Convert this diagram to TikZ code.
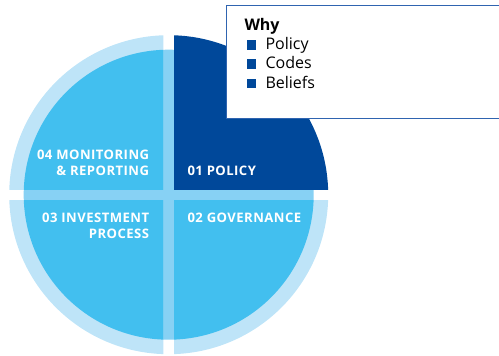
\documentclass[tikz,border=0pt]{standalone}
\usepackage{fontspec}
\setmainfont{Open Sans}
\newfontfamily\qfont[LetterSpace=3.5]{Open Sans}
\definecolor{darkq}{HTML}{00489A}
\definecolor{midq}{HTML}{42BFEF}
\definecolor{ringq}{HTML}{BEE4F8}
\definecolor{bandq}{HTML}{87D1F4}
\definecolor{legborder}{HTML}{2F64B0}
\begin{document}
\begin{tikzpicture}[x=1pt,y=1pt,
  qlabel/.style={text=white,font=\qfont\fontsize{13.1}{15}\selectfont\bfseries,inner sep=0pt},
  legtext/.style={text=black,font=\fontsize{16}{19}\selectfont,inner sep=0pt,anchor=base west},
  bullet/.style={fill=darkq}]
\useasboundingbox (0,0) rectangle (499,356);
\clip (0,0) rectangle (499,356);
\coordinate (C) at (168.7,161.3);
\def\g{5.35}
\def\Ri{145}
\def\Ro{159.5}
% band disc
\fill[bandq] (C) circle (\Ri);
% top-left quadrant
\begin{scope}
  \clip ([shift={(-200,\g)}]C) rectangle ([shift={(-\g,200)}]C);
  \fill[ringq] (C) circle (\Ro);
  \fill[midq] (C) circle (\Ri);
\end{scope}
% bottom-left quadrant
\begin{scope}
  \clip ([shift={(-200,-200)}]C) rectangle ([shift={(-\g,-\g)}]C);
  \fill[ringq] (C) circle (\Ro);
  \fill[midq] (C) circle (\Ri);
\end{scope}
% bottom-right quadrant
\begin{scope}
  \clip ([shift={(\g,-200)}]C) rectangle ([shift={(200,-\g)}]C);
  \fill[ringq] (C) circle (\Ro);
  \fill[midq] (C) circle (\Ri);
\end{scope}
% top-right quadrant (policy)
\begin{scope}
  \clip ([shift={(\g,\g)}]C) rectangle ([shift={(200,200)}]C);
  \fill[darkq] (C) circle (\Ro);
\end{scope}
% labels
\node[qlabel,anchor=base west] (q1) at (187.3,180.3) {01 POLICY};
\node[qlabel,anchor=base west] (q2) at (187.3,133) {02 GOVERNANCE};
\node[qlabel,anchor=base east] (q3a) at (149.3,133) {03 INVESTMENT};
\node[qlabel,anchor=base east] (q3b) at (149.3,117.3) {PROCESS};
\node[qlabel,anchor=base east] (q4a) at (149.3,196.7) {04 MONITORING};
\node[qlabel,anchor=base east] (q4b) at (149.3,180.3) {\& REPORTING};
% legend box
\draw[legborder,line width=1pt,fill=white] (226,237.7) rectangle (520,350.7);
\node[legtext,font=\fontsize{16}{19}\selectfont\bfseries] (why) at (244.3,325.3) {Why};
\fill[bullet] (246.7,306) rectangle (256.4,315.7);
\node[legtext] (l1) at (265.3,306) {Policy};
\fill[bullet] (246.7,287) rectangle (256.4,296.7);
\node[legtext] (l2) at (265.3,287) {Codes};
\fill[bullet] (246.7,267.7) rectangle (256.4,277.4);
\node[legtext] (l3) at (265.3,267.7) {Beliefs};
\end{tikzpicture}
\end{document}
